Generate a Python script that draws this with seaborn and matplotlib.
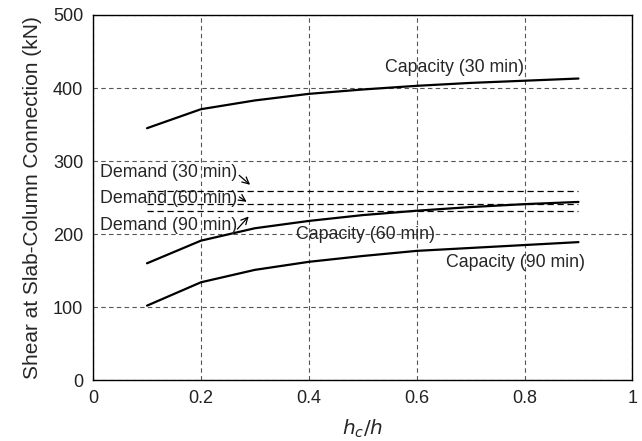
import numpy as np
import pandas as pd
import matplotlib
matplotlib.use("Agg")
import matplotlib.pyplot as plt
import seaborn as sns

# Data
hc_h = [0.1, 0.2, 0.3, 0.4, 0.5, 0.6, 0.7, 0.8, 0.9]
cap_30 = [345, 371, 383, 392, 398, 403, 407, 410, 413]
cap_60 = [160, 191, 208, 218, 226, 232, 237, 241, 244]
cap_90 = [102, 134, 151, 162, 170, 177, 181, 185, 189]
demand_x = [0.1, 0.9]
demand_30 = 259
demand_60 = 241
demand_90 = 231

sns.set_theme(style="white")
plt.rcParams['font.family'] = ['Liberation Sans', 'DejaVu Sans']

df = pd.DataFrame({
    "x": hc_h * 3,
    "y": cap_30 + cap_60 + cap_90,
    "series": ["30"] * len(hc_h) + ["60"] * len(hc_h) + ["90"] * len(hc_h),
})

fig = plt.figure(figsize=(6.42, 4.41), dpi=100)
ax = fig.add_axes([0.145, 0.138, 0.840, 0.828])

sns.lineplot(data=df, x="x", y="y", units="series", estimator=None,
             color="black", linewidth=1.6, ax=ax, legend=False)

for d in [demand_30, demand_60, demand_90]:
    ax.plot(demand_x, [d, d], color="black", linestyle=(0, (5, 3)), linewidth=0.9)

ax.set_xlim(0, 1)
ax.set_ylim(0, 500)
ax.set_xticks([0, 0.2, 0.4, 0.6, 0.8, 1])
ax.set_xticklabels(["0", "0.2", "0.4", "0.6", "0.8", "1"])
ax.set_yticks([0, 100, 200, 300, 400, 500])
ax.grid(True, color="#555555", linestyle=(0, (4, 3)), linewidth=0.8)
for s in ax.spines.values():
    s.set_color("black")
    s.set_linewidth(1.0)
ax.tick_params(axis="both", labelsize=13, colors="#222222", length=0, pad=7)

ax.set_xlabel(r"$h_c/h$", fontsize=14.5, labelpad=8)
ax.set_ylabel("Shear at Slab-Column Connection (kN)", fontsize=15, labelpad=8)

fs = 12.8
ax.text(0.67, 428, "Capacity (30 min)", ha="center", va="center", fontsize=fs)
ax.text(0.505, 199, "Capacity (60 min)", ha="center", va="center", fontsize=fs)
ax.text(0.784, 161, "Capacity (90 min)", ha="center", va="center", fontsize=fs)
ax.text(0.012, 285, "Demand (30 min)", ha="left", va="center", fontsize=fs)
ax.text(0.012, 249, "Demand (60 min)", ha="left", va="center", fontsize=fs)
ax.text(0.012, 212, "Demand (90 min)", ha="left", va="center", fontsize=fs)

arrow = dict(arrowstyle="->", color="black", lw=0.9)
ax.annotate("", xy=(0.295, 265), xytext=(0.267, 283), arrowprops=arrow)
ax.annotate("", xy=(0.289, 242), xytext=(0.267, 253), arrowprops=arrow)
ax.annotate("", xy=(0.292, 227), xytext=(0.264, 204), arrowprops=arrow)

fig.savefig("out.png", dpi=100)
